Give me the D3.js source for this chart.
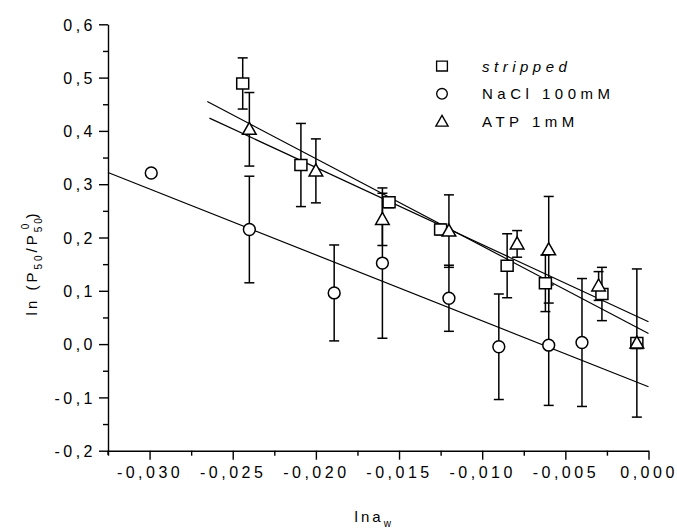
<!DOCTYPE html>
<html>
<head>
<meta charset="utf-8">
<script src="https://cdn.jsdelivr.net/npm/d3@7"></script>
<style>
  html, body { margin: 0; padding: 0; background: #fff; }
  svg { display: block; }
  text { font-family: "Liberation Sans", Arial, sans-serif; fill: #000; }
</style>
</head>
<body>
<svg id="chart" width="677" height="529"></svg>
<script>
// ---- data ----
const strippedX   = [-0.0244, -0.0209, -0.0156, -0.0125, -0.0085, -0.0062, -0.0028, -0.0007];
const strippedY   = [0.489, 0.336, 0.266, 0.215, 0.147, 0.114, 0.094, 0.002];
const strippedErr = [0.048, 0.078, 0.010, 0.010, 0.060, 0.053, 0.050, 0.010];

const naclX   = [-0.0299, -0.0240, -0.0189, -0.0160, -0.0120, -0.0090, -0.0060, -0.0040];
const naclY   = [0.321, 0.215, 0.096, 0.152, 0.086, -0.005, -0.002, 0.003];
const naclErr = [0, 0.100, 0.090, 0.141, 0.062, 0.099, 0.113, 0.120];

const atpX   = [-0.0240, -0.0200, -0.0160, -0.0120, -0.0079, -0.0060, -0.0030, -0.0007];
const atpY   = [0.403, 0.325, 0.234, 0.212, 0.188, 0.177, 0.109, 0.002];
const atpErr = [0.069, 0.060, 0.049, 0.068, 0.025, 0.100, 0.027, 0.139];

// fitted lines (start / end in data units)
const fitStrippedX = [-0.02653, 0.0];
const fitStrippedY = [0.455, 0.020];
const fitAtpX = [-0.0264, 0.0];
const fitAtpY = [0.424, 0.042];
const fitNaclX = [-0.0325, 0.0];
const fitNaclY = [0.322, -0.080];

const xTicks = [-0.030, -0.025, -0.020, -0.015, -0.010, -0.005, 0.000];
const xMinor = [-0.0325, -0.0275, -0.0225, -0.0175, -0.0125, -0.0075, -0.0025];
const yTicks = [-0.2, -0.1, 0.0, 0.1, 0.2, 0.3, 0.4, 0.5, 0.6];
const yMinor = [-0.15, -0.05, 0.05, 0.15, 0.25, 0.35, 0.45, 0.55];

const legendNames = ["stripped", "NaCl 100mM", "ATP 1mM"];
const legendShapes = ["square", "circle", "triangle"];

// ---- drawing ----
const svg = d3.select("#chart");
const x = d3.scaleLinear().domain([-0.0325, 0]).range([108, 648.5]);
const y = d3.scaleLinear().domain([-0.2, 0.6]).range([450.7, 24.3]);

const fmt = (p) => (v) => d3.format("." + p + "f")(v).replace("\u2212", "-").replace(".", ",");

// y axis
const yAxis = svg.append("g").attr("transform", `translate(${x.range()[0]},0)`)
  .call(d3.axisLeft(y).tickValues(yTicks).tickSize(9).tickSizeOuter(0).tickFormat(fmt(1)));
svg.append("g").attr("transform", `translate(${x.range()[0]},0)`)
  .call(d3.axisLeft(y).tickValues(yMinor).tickSize(5).tickSizeOuter(0).tickFormat(""))
  .select(".domain").remove();
// x axis
const xAxis = svg.append("g").attr("transform", `translate(0,${y.range()[0]})`)
  .call(d3.axisBottom(x).tickValues(xTicks).tickSize(9).tickSizeOuter(0).tickFormat(fmt(3)));
svg.append("g").attr("transform", `translate(0,${y.range()[0]})`)
  .call(d3.axisBottom(x).tickValues(xMinor).tickSize(5).tickSizeOuter(0).tickFormat(""))
  .select(".domain").remove();

svg.selectAll(".domain, .tick line").attr("stroke", "#000").attr("stroke-width", 1.4);
yAxis.selectAll(".tick text").attr("font-size", 16).attr("letter-spacing", 3.5)
  .attr("x", -12).attr("dy", "0.36em");
xAxis.selectAll(".tick text").attr("font-size", 16).attr("letter-spacing", 3.5)
  .attr("y", 16).attr("dy", "0.71em");
svg.selectAll(".tick text").attr("font-family", "'Liberation Sans', Arial, sans-serif").attr("fill", "#000");
// small extension of the y axis below the x axis
svg.append("line").attr("x1", x.range()[0]).attr("x2", x.range()[0])
  .attr("y1", y.range()[0]).attr("y2", y.range()[0] + 4).attr("stroke", "#000").attr("stroke-width", 1.4);

// axis titles
const xt = svg.append("text").attr("x", (x.range()[0] + x.range()[1]) / 2 - 4).attr("y", 522)
  .attr("text-anchor", "middle").attr("font-size", 15).attr("letter-spacing", 3);
xt.append("tspan").text("lna");
xt.append("tspan").attr("font-size", 10).attr("dy", 5).text("w");

const yt = svg.append("text").attr("transform", "translate(37,263) rotate(-90)")
  .attr("text-anchor", "middle").attr("font-size", 15).attr("letter-spacing", 3);
yt.append("tspan").text("ln (P");
yt.append("tspan").attr("font-size", 10).attr("dy", 5).text("50");
yt.append("tspan").attr("dy", -5).text("/P");
yt.append("tspan").attr("font-size", 10).attr("dy", 5).text("50");
yt.append("tspan").attr("font-size", 10).attr("dy", -13).attr("dx", -14).text("0");
yt.append("tspan").attr("dy", 8).attr("dx", 2).text(")");

// fit lines
const line = d3.line().x(d => x(d[0])).y(d => y(d[1]));
[[fitStrippedX, fitStrippedY], [fitAtpX, fitAtpY], [fitNaclX, fitNaclY]].forEach(([fx, fy]) => {
  svg.append("path").datum(d3.zip(fx, fy)).attr("d", line)
    .attr("fill", "none").attr("stroke", "#000").attr("stroke-width", 1.2);
});

// marker shapes
function shapePath(shape) {
  if (shape === "square") return "M-6,-5.5H6V5.5H-6Z";
  if (shape === "circle") return d3.symbol(d3.symbolCircle, 110)();
  return "M0,-7L6.8,5L-6.8,5Z";
}

const series = [
  { xs: strippedX, ys: strippedY, es: strippedErr, shape: "square" },
  { xs: naclX, ys: naclY, es: naclErr, shape: "circle" },
  { xs: atpX, ys: atpY, es: atpErr, shape: "triangle" }
];

// error bars
series.forEach(s => {
  const data = s.xs.map((v, i) => ({ x: v, y: s.ys[i], e: s.es[i] })).filter(d => d.e > 0);
  const g = svg.append("g").attr("stroke", "#000").attr("stroke-width", 1.5);
  data.forEach(d => {
    g.append("line").attr("x1", x(d.x)).attr("x2", x(d.x)).attr("y1", y(d.y - d.e)).attr("y2", y(d.y + d.e));
    [d.y - d.e, d.y + d.e].forEach(v => {
      g.append("line").attr("x1", x(d.x) - 5).attr("x2", x(d.x) + 5).attr("y1", y(v)).attr("y2", y(v));
    });
  });
});

// markers
series.forEach(s => {
  svg.append("g").selectAll("path").data(s.xs.map((v, i) => [v, s.ys[i]])).join("path")
    .attr("d", shapePath(s.shape))
    .attr("transform", d => `translate(${x(d[0])},${y(d[1])})`)
    .attr("fill", "#fff").attr("stroke", "#000").attr("stroke-width", 1.5);
});

// legend
const lg = svg.append("g");
legendNames.forEach((name, i) => {
  const cy = 66 + i * 27.8;
  lg.append("path").attr("d", shapePath(legendShapes[i]))
    .attr("transform", `translate(442,${cy}) scale(0.9)`)
    .attr("fill", "#fff").attr("stroke", "#000").attr("stroke-width", 1.5);
  lg.append("text").attr("x", 482).attr("y", cy + 5.5).attr("font-size", 15)
    .attr("letter-spacing", 4.5)
    .attr("font-style", i === 0 ? "italic" : "normal").text(name);
});
</script>
</body>
</html>
